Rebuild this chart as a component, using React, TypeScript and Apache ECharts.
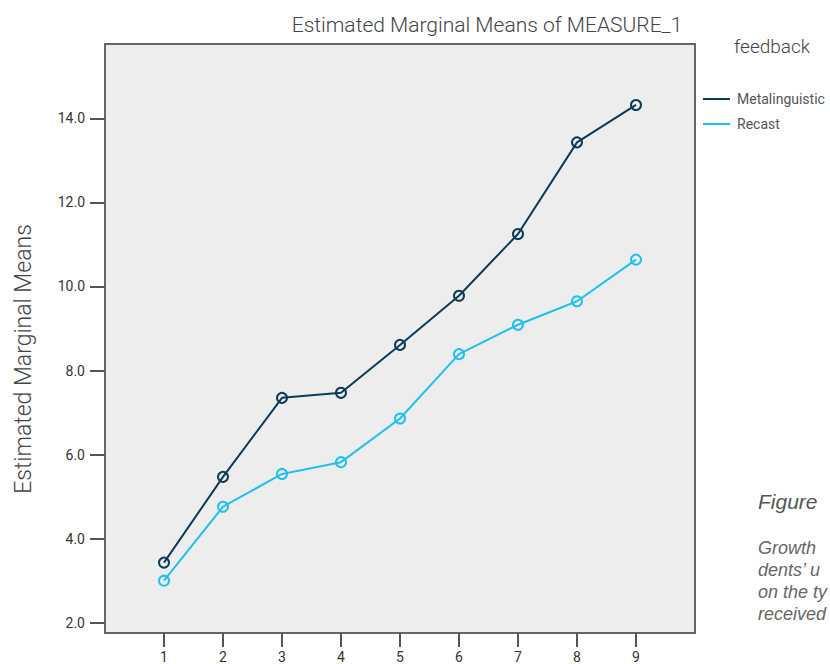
import React, { useEffect, useRef } from "react";
import * as echarts from "echarts";

const xValues = [1, 2, 3, 4, 5, 6, 7, 8, 9];
const metalinguistic = [3.43, 5.47, 7.35, 7.47, 8.61, 9.78, 11.25, 13.43, 14.32];
const recast = [3.0, 4.76, 5.54, 5.82, 6.86, 8.39, 9.09, 9.65, 10.64];
const yTicks = [2, 4, 6, 8, 10, 12, 14];
const seriesNames = ["Metalinguistic", "Recast"];
const seriesColors = ["#0b3b55", "#1fc0ee"];
const captionLines = ["Growth", "dents\u2019 u", "on the ty", "received"];

const FONT = "Roboto, 'Liberation Sans', sans-serif";

export default function App() {
  const ref = useRef<HTMLDivElement>(null);
  useEffect(() => {
    if (!ref.current) return;
    const chart = echarts.init(ref.current, undefined, { renderer: "svg" });
    const mk = (vals: number[]) => xValues.map((x, i) => [x, vals[i]]);
    const allData = [metalinguistic, recast];
    chart.setOption({
      animation: false,
      backgroundColor: "#ffffff",
      textStyle: { fontFamily: FONT },
      grid: {
        left: 105,
        top: 44,
        width: 590,
        height: 589,
        show: true,
        backgroundColor: "#ededed",
        borderColor: "#666666",
        borderWidth: 2,
      },
      xAxis: {
        type: "value",
        min: 0,
        max: 10,
        splitLine: { show: false },
        axisLine: { show: false },
        axisTick: {
          show: true,
          length: 14,
          customValues: xValues,
          lineStyle: { color: "#555555", width: 2 },
        },
        axisLabel: {
          customValues: xValues,
          margin: 17,
          fontSize: 14,
          color: "#333333",
          fontFamily: FONT,
        },
      },
      yAxis: {
        type: "value",
        min: 1.755,
        max: 15.77,
        splitLine: { show: false },
        axisLine: { show: false },
        axisTick: {
          show: true,
          length: 15,
          customValues: yTicks,
          lineStyle: { color: "#555555", width: 2 },
        },
        axisLabel: {
          customValues: yTicks,
          margin: 20,
          fontSize: 14,
          color: "#333333",
          fontFamily: FONT,
          formatter: (v: number) => v.toFixed(1),
        },
      },
      legend: {
        orient: "vertical",
        left: 698,
        top: 87,
        icon: "rect",
        itemWidth: 27,
        itemHeight: 2,
        itemGap: 11,
        textStyle: { fontSize: 14, color: "#555555", fontFamily: FONT, padding: [0, 0, 0, 2] },
        data: seriesNames.map((n, i) => ({
          name: n,
          itemStyle: { color: seriesColors[i], borderWidth: 0 },
        })),
      },
      series: seriesNames.map((n, i) => ({
        name: n,
        type: "line",
        data: mk(allData[i]),
        symbol: "circle",
        symbolSize: 10,
        lineStyle: { color: seriesColors[i], width: 2 },
        itemStyle: { color: "rgba(0,0,0,0)", borderColor: seriesColors[i], borderWidth: 2 },
        emphasis: { disabled: true },
      })),
      graphic: [
        {
          type: "text",
          x: 487,
          y: 25,
          style: {
            text: "Estimated Marginal Means of MEASURE_1",
            fontSize: 21,
            fontWeight: 300,
            fontFamily: FONT,
            fill: "#444444",
            align: "center",
            verticalAlign: "middle",
          },
        },
        {
          type: "text",
          x: 23,
          y: 359,
          rotation: Math.PI / 2,
          style: {
            text: "Estimated Marginal Means",
            fontSize: 23,
            fontWeight: 300,
            fontFamily: FONT,
            fill: "#444444",
            align: "center",
            verticalAlign: "middle",
          },
        },
        {
          type: "text",
          x: 734,
          y: 46,
          style: {
            text: "feedback",
            fontSize: 19,
            fontWeight: 300,
            fontFamily: FONT,
            fill: "#444444",
            align: "left",
            verticalAlign: "middle",
          },
        },
        {
          type: "text",
          x: 758,
          y: 501,
          style: {
            text: "Figure",
            fontSize: 21,
            fontStyle: "italic",
            fontFamily: "'Liberation Sans', sans-serif",
            fill: "#555555",
            align: "left",
            verticalAlign: "middle",
          },
        },
        ...captionLines.map((t, i) => ({
          type: "text",
          x: 758,
          y: 548 + i * 22,
          style: {
            text: t,
            fontSize: 18,
            fontStyle: "italic",
            fontFamily: "'Liberation Sans', sans-serif",
            fill: "#666666",
            align: "left",
            verticalAlign: "middle",
          },
        })),
      ],
    });
    return () => chart.dispose();
  }, []);
  return (
    <div
      ref={ref}
      style={{ position: "fixed", left: 0, top: 0, width: 830, height: 664 }}
    />
  );
}
